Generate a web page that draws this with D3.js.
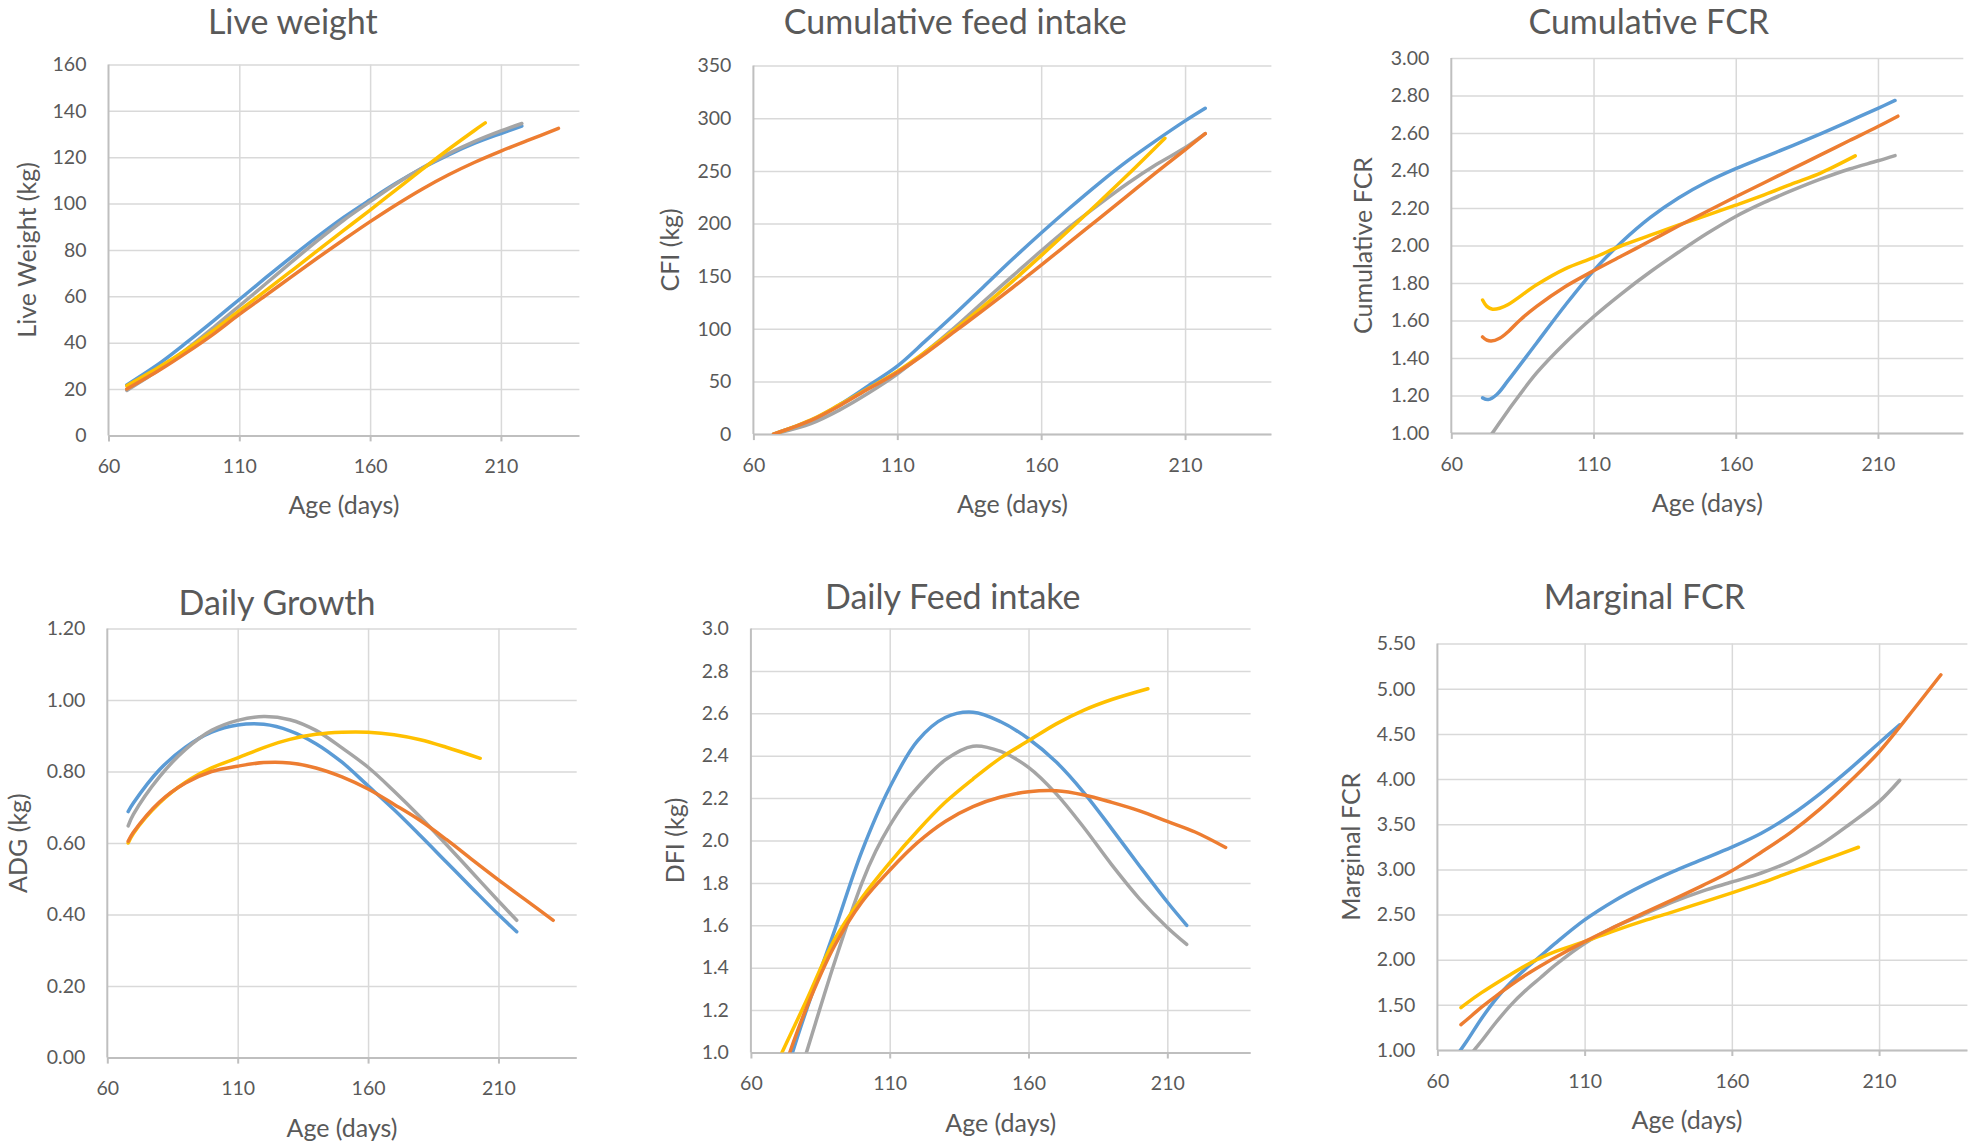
<!DOCTYPE html>
<html><head><meta charset="utf-8">
<script src="https://cdn.jsdelivr.net/npm/d3@7"></script>
<style>
html,body{margin:0;padding:0;background:#fff;}
svg{display:block;}
text{font-family:Lato,"Noto Sans",sans-serif;fill:#595959;}
.tick text{font-size:19.5px;}
.ptitle{font-size:34px;}
.atitle{font-size:25px;}
</style></head><body>
<svg id="chart" width="1979" height="1144"></svg>
<script>
// ---------- data: [age (days), value] ----------
const ageTicks = [60,110,160,210];
const lwTicks = [0,20,40,60,80,100,120,140,160];
const cfiTicks = [0,50,100,150,200,250,300,350];
const cfcrTicks = [1.0,1.2,1.4,1.6,1.8,2.0,2.2,2.4,2.6,2.8,3.0];
const adgTicks = [0,0.2,0.4,0.6,0.8,1.0,1.2];
const dfiTicks = [1.0,1.2,1.4,1.6,1.8,2.0,2.2,2.4,2.6,2.8,3.0];
const mfcrTicks = [1.0,1.5,2.0,2.5,3.0,3.5,4.0,4.5,5.0,5.5];

const lwBlue = [[67,21.8],[80,31.5],[90,40.2],[100,49.3],[110,58.6],[120,67.9],[130,77],[140,85.8],[150,94.1],[160,101.6],[170,108.8],[180,115.3],[190,121],[200,126],[210,130.2],[218,133.4]];
const lwGray = [[67,19.4],[80,28.8],[90,37.3],[100,46.4],[110,55.8],[120,65.3],[130,74.8],[140,84.1],[150,92.9],[160,100.8],[170,108.5],[180,115.4],[190,121.5],[200,126.8],[210,131.3],[218,134.5]];
const lwOrange = [[67,20],[80,28.5],[90,35.8],[100,43.6],[110,52.2],[120,60.3],[130,68.5],[140,76.6],[150,84.5],[160,92.2],[170,99.5],[180,106.3],[190,112.4],[200,117.8],[210,122.6],[220,127.1],[232,132.4]];
const lwYellow = [[67,21.4],[80,29.9],[90,37.2],[100,45.2],[110,53.8],[120,62.3],[130,71],[140,79.8],[150,88.5],[160,97.2],[170,106],[180,114.8],[190,123.4],[200,131.6],[204,134.8]];

const cfiBlue = [[67,0],[80,13],[90,28],[100,46],[110,64.5],[120,89],[130,114],[140,140],[150,166],[160,191],[170,215],[180,238],[190,259.5],[200,279],[210,297.5],[217,309.5]];
const cfiGray = [[67,0],[80,10],[90,23],[100,39],[110,57],[120,78.5],[130,101.5],[140,126],[150,150],[160,174],[170,197],[180,218],[190,238],[200,256],[210,272],[217,285.4]];
const cfiOrange = [[67,0],[80,13],[90,27],[100,43],[110,58.5],[120,77],[130,97.5],[140,118],[150,139],[160,160.5],[170,182.5],[180,204.5],[190,226.5],[200,248.5],[210,270],[217,285.4]];
const cfiYellow = [[67,0],[80,13.5],[90,28],[100,43.5],[110,59.5],[120,78.5],[130,99.5],[140,121.5],[150,145],[160,169.5],[170,194.5],[180,220],[190,246],[203,281]];

const cfcrBlue = [[71,1.187],[73,1.178],[76,1.205],[80,1.28],[90,1.48],[100,1.68],[110,1.865],[120,2.02],[130,2.15],[140,2.255],[150,2.34],[160,2.41],[170,2.472],[180,2.533],[190,2.597],[200,2.664],[210,2.732],[216,2.774]];
const cfcrGray = [[71,0.93],[74.5,1.0],[80,1.12],[90,1.32],[100,1.48],[110,1.62],[120,1.745],[130,1.86],[140,1.965],[150,2.065],[160,2.155],[170,2.23],[180,2.295],[190,2.355],[200,2.408],[210,2.452],[216,2.48]];
const cfcrOrange = [[71,1.512],[72.5,1.495],[74,1.49],[77,1.505],[80,1.54],[84,1.6],[90,1.675],[100,1.78],[110,1.865],[120,1.945],[130,2.025],[140,2.105],[150,2.183],[160,2.26],[170,2.335],[180,2.41],[190,2.485],[200,2.56],[210,2.635],[217,2.69]];
const cfcrYellow = [[71,1.709],[72.5,1.675],[74.5,1.66],[77,1.665],[80,1.685],[90,1.79],[100,1.875],[110,1.935],[120,2.0],[130,2.055],[140,2.11],[150,2.162],[160,2.215],[170,2.27],[180,2.33],[190,2.388],[202,2.478]];

const adgBlue = [[68,0.688],[70,0.712],[80,0.805],[90,0.868],[100,0.91],[110,0.93],[120,0.932],[130,0.914],[140,0.878],[150,0.826],[160,0.76],[170,0.693],[180,0.621],[190,0.547],[200,0.473],[210,0.4],[217,0.352]];
const adgGray = [[68,0.648],[70,0.68],[80,0.785],[90,0.862],[100,0.915],[110,0.943],[120,0.954],[130,0.945],[140,0.915],[150,0.866],[160,0.812],[170,0.745],[180,0.673],[190,0.596],[200,0.517],[210,0.438],[217,0.384]];
const adgOrange = [[68,0.605],[70,0.63],[80,0.715],[90,0.768],[100,0.8],[110,0.815],[120,0.825],[130,0.824],[140,0.81],[150,0.785],[160,0.751],[170,0.708],[180,0.663],[190,0.61],[200,0.553],[210,0.497],[220,0.443],[231,0.384]];
const adgYellow = [[68,0.6],[70,0.627],[80,0.712],[90,0.77],[100,0.81],[110,0.838],[120,0.867],[130,0.89],[140,0.904],[150,0.91],[160,0.91],[170,0.903],[180,0.889],[190,0.868],[203,0.837]];

const dfiBlue = [[67,0.64],[75,1.0],[80,1.2],[90,1.57],[100,1.95],[110,2.25],[120,2.47],[130,2.58],[140,2.605],[150,2.56],[160,2.48],[170,2.37],[180,2.225],[190,2.055],[200,1.88],[210,1.71],[217,1.6]];
const dfiGray = [[67,0.45],[80,1.0],[90,1.42],[100,1.8],[105,1.95],[110,2.07],[115,2.17],[120,2.25],[130,2.38],[140,2.445],[150,2.42],[160,2.345],[170,2.22],[180,2.06],[190,1.885],[200,1.725],[210,1.59],[217,1.51]];
const dfiOrange = [[67,0.72],[74,1.0],[80,1.21],[90,1.5],[100,1.71],[110,1.86],[120,1.99],[130,2.09],[140,2.16],[150,2.205],[160,2.23],[170,2.235],[180,2.215],[190,2.18],[200,2.14],[210,2.09],[220,2.04],[231,1.967]];
const dfiYellow = [[67,0.88],[71.2,1.0],[80,1.245],[90,1.53],[100,1.73],[110,1.895],[120,2.045],[130,2.18],[140,2.29],[150,2.39],[160,2.47],[170,2.55],[180,2.615],[190,2.665],[203,2.716]];

const mfcrBlue = [[67,0.96],[70,1.1],[75,1.35],[80,1.57],[85,1.75],[90,1.9],[95,2.04],[100,2.18],[110,2.44],[120,2.65],[130,2.825],[140,2.975],[150,3.11],[160,3.246],[170,3.4],[180,3.6],[190,3.84],[200,4.11],[210,4.4],[217,4.6]];
const mfcrGray = [[68,0.8],[72.5,1.0],[75,1.1],[80,1.31],[85,1.5],[90,1.66],[95,1.8],[100,1.94],[110,2.18],[120,2.36],[130,2.5],[140,2.64],[150,2.76],[160,2.86],[170,2.96],[180,3.09],[190,3.27],[200,3.5],[210,3.75],[217,3.987]];
const mfcrOrange = [[68,1.28],[70,1.335],[75,1.475],[80,1.6],[85,1.72],[90,1.83],[95,1.93],[100,2.025],[110,2.2],[120,2.36],[130,2.515],[140,2.665],[150,2.82],[160,2.985],[170,3.19],[180,3.41],[190,3.67],[200,3.97],[210,4.3],[220,4.7],[231,5.155]];
const mfcrYellow = [[68,1.47],[70,1.52],[75,1.635],[80,1.74],[85,1.84],[90,1.935],[95,2.02],[100,2.09],[110,2.2],[120,2.32],[130,2.43],[140,2.53],[150,2.635],[160,2.74],[170,2.85],[180,2.97],[190,3.09],[203,3.245]];

// series order of drawing: blue, gray, yellow, orange
const seriesColors = ["#5B9BD5","#A5A5A5","#FFC000","#ED7D31"];

// ---------- layout ----------
const panels = [
  {title:"Live weight", yTitle:"Live Weight (kg)", data:[lwBlue,lwGray,lwYellow,lwOrange], ticks:lwTicks, fmt:d3.format("d"),
   box:[108.5,64.4,579.4,435.4], tX:292.8, tY:34, yOff:-73},
  {title:"Cumulative feed intake", yTitle:"CFI (kg)", data:[cfiBlue,cfiGray,cfiYellow,cfiOrange], ticks:cfiTicks, fmt:d3.format("d"),
   box:[753.4,65.6,1271.4,434.1], tX:955.3, tY:34, yOff:-74},
  {title:"Cumulative FCR", yTitle:"Cumulative FCR", data:[cfcrBlue,cfcrGray,cfcrYellow,cfcrOrange], ticks:cfcrTicks, fmt:d3.format(".2f"),
   box:[1451.3,58.1,1963.3,432.9], tX:1648.8, tY:34, yOff:-79},
  {title:"Daily Growth", yTitle:"ADG (kg)", data:[adgBlue,adgGray,adgYellow,adgOrange], ticks:adgTicks, fmt:d3.format(".2f"),
   box:[107.3,628.5,576.7,1057.6], tX:277, tY:614.7, yOff:-80},
  {title:"Daily Feed intake", yTitle:"DFI (kg)", data:[dfiBlue,dfiGray,dfiYellow,dfiOrange], ticks:dfiTicks, fmt:d3.format(".1f"),
   box:[750.9,628.5,1250.6,1052.5], tX:952.8, tY:608.5, yOff:-67},
  {title:"Marginal FCR", yTitle:"Marginal FCR", data:[mfcrBlue,mfcrGray,mfcrYellow,mfcrOrange], ticks:mfcrTicks, fmt:d3.format(".2f"),
   box:[1437.4,643.6,1967.4,1050], tX:1644.4, tY:608.5, yOff:-77, xTitleX:1687}
];

const svg = d3.select("#chart");
const defs = svg.append("defs");

panels.forEach((p,i)=>{
  const [L,T,R,B] = p.box;
  const x = d3.scaleLinear().domain([60,240]).range([L,R]);
  const y = d3.scaleLinear().domain([p.ticks[0], p.ticks[p.ticks.length-1]]).range([B,T]);
  const g = svg.append("g");

  // horizontal gridlines + y labels
  const gy = g.append("g").attr("transform",`translate(${L},0)`)
    .call(d3.axisLeft(y).tickValues(p.ticks).tickFormat(p.fmt).tickSize(-(R-L)).tickPadding(22))
    .attr("font-size",null).attr("font-family",null);
  gy.select(".domain").remove();
  gy.selectAll(".tick line").attr("stroke","#D9D9D9").attr("stroke-width",1.5);

  // vertical gridlines
  const gv = g.append("g").attr("transform",`translate(0,${B})`)
    .call(d3.axisBottom(x).tickValues(ageTicks.slice(1)).tickSize(-(B-T)).tickFormat(""));
  gv.select(".domain").remove();
  gv.selectAll(".tick line").attr("stroke","#D9D9D9").attr("stroke-width",1.5);

  // x axis with ticks and labels
  const gx = g.append("g").attr("transform",`translate(0,${B})`)
    .call(d3.axisBottom(x).tickValues(ageTicks).tickSize(6).tickPadding(18).tickSizeOuter(0))
    .attr("font-size",null).attr("font-family",null);
  gx.select(".domain").attr("stroke","#BFBFBF").attr("stroke-width",2)
    .attr("d",`M${L},0.5H${R}`);
  gx.selectAll(".tick line").attr("stroke","#BFBFBF").attr("stroke-width",2);

  // left axis line
  g.append("line").attr("x1",L).attr("x2",L).attr("y1",T).attr("y2",B)
    .attr("stroke","#BFBFBF").attr("stroke-width",2);

  // clip
  const cid = "clip"+i;
  defs.append("clipPath").attr("id",cid).append("rect")
    .attr("x",L-10).attr("y",T-30).attr("width",R-L+40).attr("height",B-T+30);

  const line = d3.line().x(d=>x(d[0])).y(d=>y(d[1])).curve(d3.curveCatmullRom.alpha(0.5));
  g.append("g").attr("clip-path",`url(#${cid})`)
    .selectAll("path").data(p.data).join("path")
    .attr("d",line).attr("fill","none")
    .attr("stroke",(d,k)=>seriesColors[k]).attr("stroke-width",3.5)
    .attr("stroke-linecap","round").attr("stroke-linejoin","round");

  // titles
  g.append("text").attr("class","ptitle").attr("x",p.tX).attr("y",p.tY)
    .attr("text-anchor","middle").text(p.title);
  g.append("text").attr("class","atitle")
    .attr("x", p.xTitleX || (L+R)/2).attr("y",B+79)
    .attr("text-anchor","middle").text("Age (days)");
  g.append("text").attr("class","atitle")
    .attr("transform",`translate(${L+p.yOff},${(T+B)/2}) rotate(-90)`)
    .attr("text-anchor","middle").text(p.yTitle);
});
</script>
</body></html>
